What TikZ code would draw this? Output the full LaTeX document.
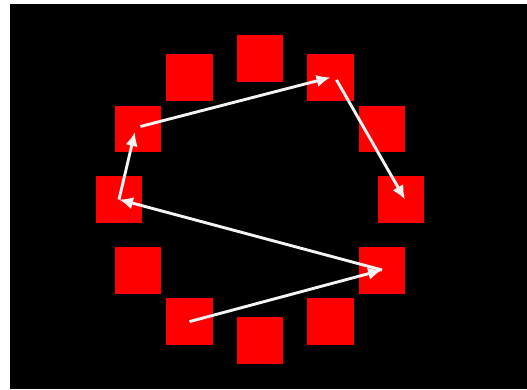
\documentclass[tikz,border=0pt]{standalone}
\usepackage{tikz}
\usetikzlibrary{positioning, arrows.meta, calc}
\definecolor{board}{HTML}{000000}
\definecolor{tile}{HTML}{FF0000}
\definecolor{chalk}{HTML}{F4F4F4}
\tikzset{
  sq/.style   = {rectangle, fill=tile, draw=none, inner sep=0pt,
                 minimum width=0.93cm, minimum height=0.94cm},
  jump/.style = {-{Latex[length=2.8mm,width=2.5mm]}, line width=1.65pt, draw=chalk},
}

\begin{document}
\begin{tikzpicture}[x=0.02cm, y=-0.02cm]

  \useasboundingbox (0,0) rectangle (527,389);
  \fill[white] (0,0) rectangle (527,389);
  \fill[board] (10,4) rectangle (527,389);

  % twelve tiles round the circle, 0 at the top, clockwise
  \coordinate (c) at (260,199.5);
  \foreach \i in {0,...,11}
    \node[sq] (s\i) at ($(c)+({141*sin(\i*30)},{-141*cos(\i*30)})$) {};

  \draw[jump] (s7.center) -- (s4.center);
  \draw[jump] (s4.center) -- (s9.center);
  \draw[jump] (s9.center) -- ([xshift=-0.06cm, yshift=-0.06cm]s10.center);
  \draw[jump] ([xshift=0.05cm, yshift=0.05cm]s10.center) -- (s1.center);
  \draw[jump] ([xshift=0.12cm, yshift=-0.05cm]s1.center) -- ([xshift=0.08cm]s3.center);

\end{tikzpicture}
\end{document}
